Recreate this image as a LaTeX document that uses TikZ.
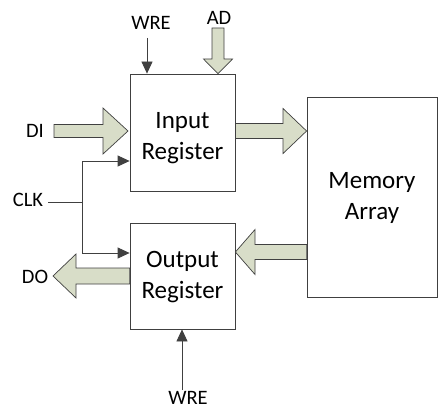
\documentclass[tikz,border=0pt]{standalone}
\usepackage{fontspec}
\setmainfont{Carlito}
\usetikzlibrary{arrows.meta}
\definecolor{busfill}{RGB}{216,221,200}
\definecolor{lineg}{RGB}{64,64,64}
\begin{document}
\begin{tikzpicture}[x=1pt,y=-1pt,
  blk/.style={draw=lineg, line width=0.8pt, fill=white, inner sep=0pt},
  txt/.style={inner sep=0pt, align=center, font=\fontsize{25}{31}\selectfont},
  lbl/.style={inner sep=0pt, font=\fontsize{20.5}{23}\selectfont},
  bus/.style={draw=lineg, line width=0.7pt, fill=busfill, line join=miter},
  wire/.style={draw=lineg, line width=0.8pt},
  tip/.style={-{Triangle[length=12pt,width=11pt]}}]
\useasboundingbox (0,0) rectangle (438,409);
% boxes
\node[blk, minimum width=105pt, minimum height=117pt] (inreg) at (182.5,132.5) {};
\node[blk, minimum width=105pt, minimum height=106pt] (outreg) at (182.5,276) {};
\node[blk, minimum width=130pt, minimum height=200pt] (mem) at (372,197) {};
\node[txt] (intxt) at (182.5,138) {Input\\Register};
\node[txt] (outtxt) at (182.5,277.5) {Output\\Register};
\node[txt] (memtxt) at (372,198) {Memory\\Array};
% labels
\node[lbl] (wret) at (151,23) {WRE};
\node[lbl] (ad) at (219,18) {AD};
\node[lbl] (di) at (35,131) {DI};
\node[lbl] (clk) at (28,200) {CLK};
\node[lbl] (do) at (35,277) {DO};
\node[lbl] (wreb) at (188,398) {WRE};
% block arrows
\draw[bus] (54,124.5) -- (103,124.5) -- (103,108) -- (128,131) -- (103,154) -- (103,137.5) -- (54,137.5) -- cycle;
\draw[bus] (inreg.east |- 0,123.5) -- (283,123.5) -- (283,108.5) -- (mem.west |- 0,131) -- (283,153.5) -- (283,138.5) -- (inreg.east |- 0,138.5) -- cycle;
\draw[bus] (mem.west |- 0,244.5) -- (255,244.5) -- (255,229.5) -- (outreg.east |- 0,252) -- (255,274.5) -- (255,259.5) -- (mem.west |- 0,259.5) -- cycle;
\draw[bus] (outreg.west |- 0,268) -- (76,268) -- (76,254) -- (53,276) -- (76,298) -- (76,284) -- (outreg.west |- 0,284) -- cycle;
\draw[bus] (212,28) -- (212,59) -- (203.5,59) -- (218,0 |- inreg.north) -- (232.5,59) -- (224,59) -- (224,28) -- cycle;
% thin arrows
\coordinate (wt) at (147,38);
\draw[wire,tip] (wt) -- (wt |- inreg.north);
\coordinate (j) at (82,202);
\draw[wire] ([xshift=5pt]clk.east |- j) -- (j);
\draw[wire,tip] (j) |- (inreg.west |- 0,161);
\draw[wire,tip] (j) |- (outreg.west |- 0,253);
\coordinate (wb) at (182,390);
\draw[wire,tip] (wb) -- (wb |- outreg.south);
\end{tikzpicture}
\end{document}
